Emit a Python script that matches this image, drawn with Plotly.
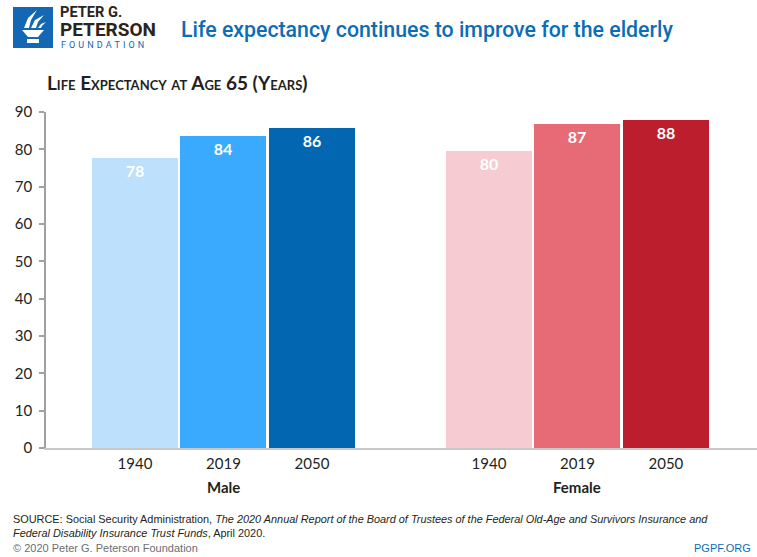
import plotly.graph_objects as go

# ---- data ----
groups = ["Male", "Female"]
years = ["1940", "2019", "2050"]
male_values = [77.8, 83.6, 85.6]
female_values = [79.6, 86.7, 87.8]
male_labels = ["78", "84", "86"]
female_labels = ["80", "87", "88"]
male_colors = ["#bde0fc", "#3aaaff", "#0366b0"]
female_colors = ["#f6cbd1", "#e66b77", "#bc1e2d"]
y_ticks = [0, 10, 20, 30, 40, 50, 60, 70, 80, 90]

W, H = 757, 557
L, R, T, B = 46, 0, 112, 109
PW, PH = W - L - R, H - T - B


def px(x):
    return (x - L) / PW


def py(y):
    return (H - B - y) / PH


FONT = "Lato, Open Sans, Arial, sans-serif"
DARK = "#231f20"
BLUE = "#0c6db5"

fig = go.Figure()
series = [(male_values, male_labels, male_colors), (female_values, female_labels, female_colors)]
tickvals, ticktext = [], []
for gi, (vals, labs, cols) in enumerate(series):
    xs = [gi * 4 + j for j in range(len(years))]
    tickvals += xs
    ticktext += years
    fig.add_trace(go.Bar(
        x=xs, y=vals, text=labs, width=0.972,
        marker=dict(color=cols, line=dict(width=0)),
        textposition="inside", insidetextanchor="end",
        textangle=0,
        textfont=dict(family=FONT, size=16, color="white", weight="bold"),
        hoverinfo="skip", showlegend=False,
    ))
    fig.add_annotation(
        x=gi * 4 + 1, xref="x", y=py(487), yref="paper",
        text="<b>%s</b>" % groups[gi], showarrow=False,
        font=dict(family=FONT, size=15, color=DARK),
        xanchor="center", yanchor="middle",
    )

fig.update_layout(
    width=W, height=H, autosize=False,
    margin=dict(l=L, r=R, t=T, b=B, pad=0),
    paper_bgcolor="white", plot_bgcolor="white",
    bargap=0, barmode="overlay",
    xaxis=dict(
        range=[-1.005, 7.029], showgrid=False, zeroline=False,
        showline=True, linecolor="#c8c8c8", linewidth=2,
        tickvals=tickvals, ticktext=ticktext, ticks="",
        tickfont=dict(family=FONT, size=15, color=DARK),
        ticklabelstandoff=1,
    ),
    yaxis=dict(
        range=[0, 90], tickvals=y_ticks, showgrid=False, zeroline=False,
        showline=True, linecolor="#a0a0a0", linewidth=1.5,
        ticks="outside", ticklen=5, tickcolor="#a0a0a0", tickwidth=1.5,
        tickfont=dict(family=FONT, size=15, color=DARK),
        ticklabelstandoff=4,
    ),
)

# title & subtitle
fig.add_annotation(
    x=px(179), y=py(29), xref="paper", yref="paper", xanchor="left", yanchor="middle",
    text="Life expectancy continues to improve for the elderly", showarrow=False,
    font=dict(family="Roboto, Arial, sans-serif", size=21.3, color=BLUE, weight=500),
)
fig.add_annotation(
    x=px(45), y=py(82), xref="paper", yref="paper", xanchor="left", yanchor="middle",
    text="<b>Life Expectancy at Age 65 (Years)</b>", showarrow=False,
    font=dict(family=FONT, size=19, color=DARK, variant="small-caps"),
)

# logo
fig.add_shape(type="rect", xref="paper", yref="paper",
              x0=px(13), x1=px(53), y0=py(48), y1=py(7),
              fillcolor="#1467b3", line=dict(width=0))


def path(points):
    return "M " + " L ".join("%f,%f" % (px(a), py(b)) for a, b in points) + " Z"


# torch cup
fig.add_shape(type="path", xref="paper", yref="paper",
              path=path([(22, 30), (44, 30), (38, 37), (28, 37)]),
              fillcolor="white", line=dict(width=0))
fig.add_shape(type="path", xref="paper", yref="paper",
              path=path([(27, 39), (39, 39), (39, 43), (27, 43)]),
              fillcolor="white", line=dict(width=0))
# flames
fig.add_shape(type="path", xref="paper", yref="paper",
              path=path([(24, 28), (28, 18), (37, 10), (31, 20), (29, 28)]),
              fillcolor="white", line=dict(width=0))
fig.add_shape(type="path", xref="paper", yref="paper",
              path=path([(31, 28), (35, 20), (44, 15), (38, 22), (36, 28)]),
              fillcolor="white", line=dict(width=0))
fig.add_shape(type="path", xref="paper", yref="paper",
              path=path([(38, 28), (41, 24), (46, 22), (42, 26), (41, 28)]),
              fillcolor="white", line=dict(width=0))

LOGO_FONT = "Roboto, Arial, sans-serif"
fig.add_annotation(x=px(59), y=py(22), xref="paper", yref="paper", xanchor="left", yanchor="middle",
                   text="<b>PETER G.</b><br><b><span style='font-size:19px'>PETERSON</span></b>",
                   showarrow=False, borderpad=0, align="left",
                   font=dict(family=LOGO_FONT, size=14.6, color="#2a2420"))
fig.add_annotation(x=px(60), y=py(45), xref="paper", yref="paper", xanchor="left", yanchor="middle",
                   text="\u2004".join("FOUNDATION"), showarrow=False, borderpad=0,
                   font=dict(family=LOGO_FONT, size=9, color="#1467b3"))

# footer
SRC_FONT = "Arial, Liberation Sans, sans-serif"
fig.add_annotation(
    x=px(11), y=py(519), xref="paper", yref="paper", xanchor="left", yanchor="middle",
    text="SOURCE: Social Security Administration, <i>The 2020 Annual Report of the Board of Trustees of the Federal Old-Age and Survivors Insurance and</i>",
    showarrow=False, font=dict(family=SRC_FONT, size=10.9, color=DARK),
)
fig.add_annotation(
    x=px(11), y=py(533), xref="paper", yref="paper", xanchor="left", yanchor="middle",
    text="<i>Federal Disability Insurance Trust Funds</i>, April 2020.",
    showarrow=False, font=dict(family=SRC_FONT, size=10.9, color=DARK),
)
fig.add_annotation(
    x=px(11), y=py(548), xref="paper", yref="paper", xanchor="left", yanchor="middle",
    text="© 2020 Peter G. Peterson Foundation",
    showarrow=False, font=dict(family=SRC_FONT, size=11, color="#6d6e71"),
)
fig.add_annotation(
    x=px(753), y=py(548), xref="paper", yref="paper", xanchor="right", yanchor="middle",
    text="PGPF.ORG",
    showarrow=False, font=dict(family=SRC_FONT, size=11, color=BLUE),
)

fig.write_html("out.html")
